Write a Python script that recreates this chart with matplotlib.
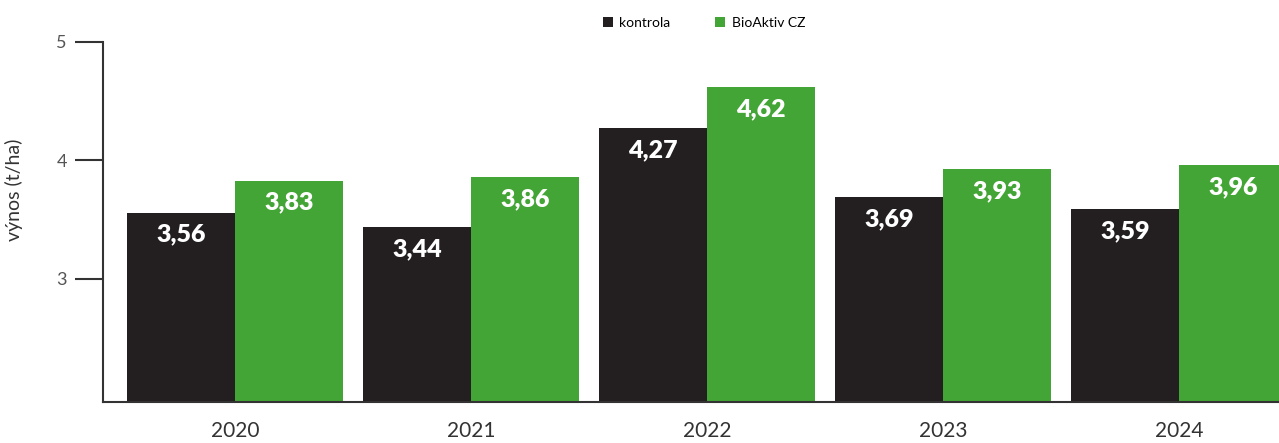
import matplotlib
matplotlib.use("Agg")
import matplotlib.pyplot as plt
import numpy as np

years = ["2020", "2021", "2022", "2023", "2024"]
kontrola = [3.56, 3.44, 4.27, 3.69, 3.59]
bioaktiv = [3.83, 3.86, 4.62, 3.93, 3.96]
series_names = ["kontrola", "BioAktiv CZ"]
yticks = [3, 4, 5]

c_k = "#231f20"
c_b = "#43a535"

fig = plt.figure(figsize=(12.79, 4.43), dpi=100)
ax = fig.add_axes([103/1279, 41/443, 1 - 103/1279, (402-42)/443])

x = np.arange(len(years))
w = 0.4576
b1 = ax.bar(x - w/2, kontrola, w, color=c_k, label=series_names[0], zorder=2)
b2 = ax.bar(x + w/2, bioaktiv, w, color=c_b, label=series_names[1], zorder=2)

for bars, vals in ((b1, kontrola), (b2, bioaktiv)):
    for r, v in zip(bars, vals):
        ax.annotate(f"{v:.2f}".replace(".", ","),
                    (r.get_x() + r.get_width()/2, r.get_height()),
                    xytext=(0, -16), textcoords="offset points",
                    ha="center", va="center", color="white",
                    fontsize=18, fontweight="heavy", family="Lato")

ax.set_xlim(-0.559, len(years) - 1 + 0.424)
ax.set_ylim(1.96, 5)
ax.set_yticks(yticks)
ax.set_yticklabels([str(t) for t in yticks], fontsize=13, color="#555555",
                   family="Lato")
ax.set_xticks(x)
ax.set_xticklabels(years, fontsize=15, color="#333333", family="Lato")
ax.tick_params(axis="x", length=0, pad=14)
ax.tick_params(axis="y", length=20, width=1.5, color="#333333", pad=6)

for s in ("top", "right"):
    ax.spines[s].set_visible(False)
for s in ("left", "bottom"):
    ax.spines[s].set_color("#333333")
    ax.spines[s].set_linewidth(1.5)

ax.set_ylabel("výnos (t/ha)", fontsize=14, color="#333333", family="Lato")
ax.yaxis.set_label_coords(-0.068, 0.59)

fig.legend(handles=[b1, b2], labels=series_names, loc="center",
           bbox_to_anchor=(704/1279, 1 - 23/443), ncol=2, frameon=False,
           handlelength=0.7, handleheight=0.7, handletextpad=0.5,
           columnspacing=3.2, prop={"family": "Lato", "size": 10})

fig.savefig("out.png", dpi=100)
